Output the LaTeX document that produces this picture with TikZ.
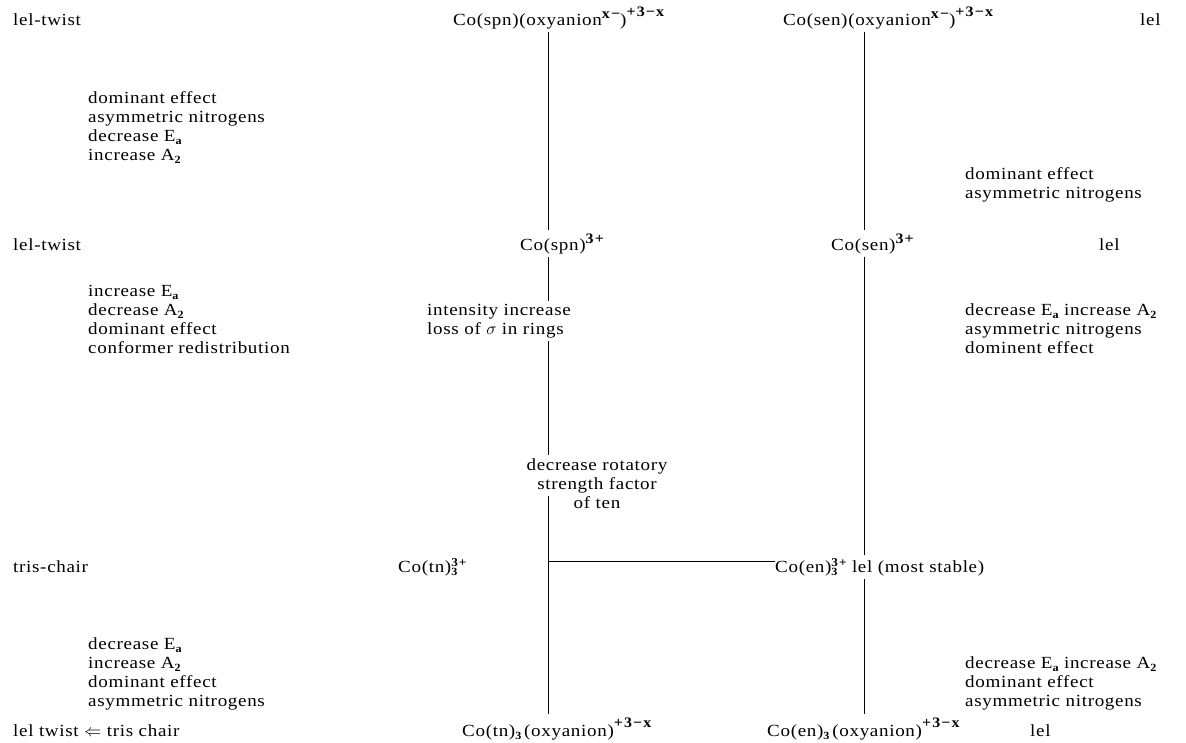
\documentclass[tikz,border=0pt]{standalone}
\usepackage{fontspec}
\setmainfont{Liberation Serif}[FakeStretch=1.12,LetterSpace=4]
\newfontfamily\supfont{Liberation Serif}[FakeStretch=1.1,LetterSpace=8]
\newcommand\sps[2][7pt]{\raisebox{#1}{\fontsize{12}{13}\supfont\bfseries #2}}
\newcommand\spb[2][8pt]{\raisebox{#1}{\fontsize{14.5}{15}\supfont\bfseries #2}}
\newcommand\sbs[1]{\raisebox{-3.5pt}{\fontsize{11}{12}\supfont\bfseries #1}}
\newcommand\sbsp[2]{\rlap{\sbs{#1}}\sps[6pt]{#2}}
\begin{document}
\begin{tikzpicture}[x=1pt,y=1pt,
  txt/.style={anchor=base west, inner sep=0pt, font=\fontsize{17}{19}\selectfont},
  ctxt/.style={anchor=base, inner sep=0pt, font=\fontsize{17}{19}\selectfont},
  conn/.style={line width=0.9pt, shorten <=3pt, shorten >=3pt}]
\useasboundingbox (0,0) rectangle (1186,-742);
\coordinate (L) at (548,0);
\coordinate (R) at (864,0);
% row 1
\node[txt] (r1a) at (13,-25) {lel-twist};
\node[txt] (t1) at (453,-25) {Co(spn)(oxyanion\spb[7pt]{x−})\spb[9pt]{+3−x}};
\node[txt] (t2) at (783,-25) {Co(sen)(oxyanion\spb[7pt]{x−})\spb[9pt]{+3−x}};
\node[txt] (r1b) at (1140,-25) {lel};
% block 1
\node[txt] (a1) at (88,-103) {dominant effect};
\node[txt] (a2) at (88,-122) {asymmetric nitrogens};
\node[txt] (a3) at (88,-141) {decrease E\sbs{a}};
\node[txt] (a4) at (88,-160) {increase A\sbs{2}};
\node[txt] (a5) at (965,-179) {dominant effect};
\node[txt] (a6) at (965,-198) {asymmetric nitrogens};
% row 2
\node[txt] (r2a) at (13,-250) {lel-twist};
\node[txt] (m1) at (520,-250) {Co(spn)\spb[7pt]{3+}};
\node[txt] (m2) at (831,-250) {Co(sen)\spb[7pt]{3+}};
\node[txt] (r2b) at (1099,-250) {lel};
% block 2
\node[txt] (b1l) at (88,-296) {increase E\sbs{a}};
\node[txt] (b2l) at (88,-315) {decrease A\sbs{2}};
\node[txt] (b3l) at (88,-334) {dominant effect};
\node[txt] (b4l) at (88,-353) {conformer redistribution};
\node[txt] (int) at (427,-315) {intensity increase};
\node[txt] (loss) at (427,-334) {loss of $\sigma$ in rings};
\node[txt] (b1r) at (965,-315) {decrease E\sbs{a} increase A\sbs{2}};
\node[txt] (b2r) at (965,-334) {asymmetric nitrogens};
\node[txt] (b3r) at (965,-353) {dominent effect};
% rotatory
\node[ctxt] (rot1) at (597,-470) {decrease rotatory};
\node[ctxt] (rot2) at (597,-489) {strength factor};
\node[ctxt] (rot3) at (597,-508) {of ten};
% row 3
\node[txt] (r3a) at (13,-572) {tris-chair};
\node[txt] (c3l) at (398,-572) {Co(tn)\sbsp{3}{3+}};
\node[txt] (c3) at (775,-572) {Co(en)\sbsp{3}{3+} lel (most stable)};
% block 3
\node[txt] (c1l) at (88,-649) {decrease E\sbs{a}};
\node[txt] (c2l) at (88,-668) {increase A\sbs{2}};
\node[txt] (c3lb) at (88,-687) {dominant effect};
\node[txt] (c4l) at (88,-706) {asymmetric nitrogens};
\node[txt] (c1r) at (965,-668) {decrease E\sbs{a} increase A\sbs{2}};
\node[txt] (c2r) at (965,-687) {dominant effect};
\node[txt] (c3r) at (965,-706) {asymmetric nitrogens};
% row 4
\node[txt] (r4a) at (13,-736) {lel twist $\Leftarrow$ tris chair};
\node[txt] (bt1) at (462,-736) {Co(tn)\sbs{3}\,(oxyanion)\spb[9pt]{+3−x}};
\node[txt] (bt2) at (767,-736) {Co(en)\sbs{3}\,(oxyanion)\spb[9pt]{+3−x}};
\node[txt] (r4b) at (1030,-736) {lel};
% connectors
\draw[conn] (t1.south -| L) -- (m1.north -| L);
\draw[conn] (m1.south -| L) -- (int.north -| L);
\draw[conn] (loss.south -| L) -- (rot1.north -| L);
\draw[conn] (rot2.south -| L) -- (bt1.north -| L);
\coordinate (J) at ([yshift=5pt]c3.west);
\draw[line width=0.9pt] (J -| L) -- (J);
\draw[conn] (t2.south -| R) -- (m2.north -| R);
\draw[conn] (m2.south -| R) -- (c3.north -| R);
\draw[conn] (c3.south -| R) -- (bt2.north -| R);
\end{tikzpicture}
\end{document}
